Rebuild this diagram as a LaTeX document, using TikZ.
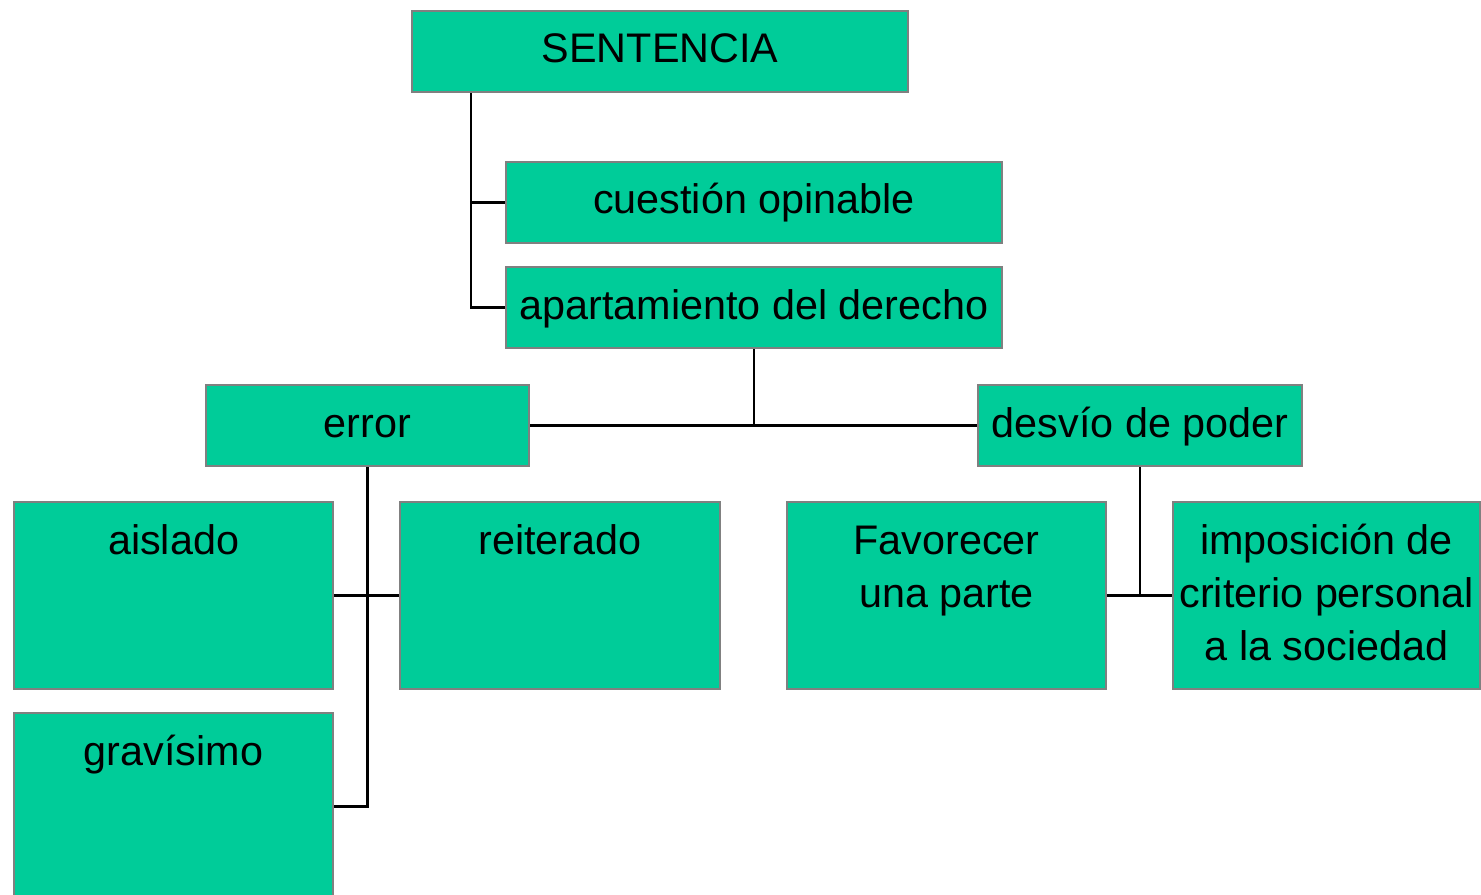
\documentclass[tikz,border=0pt]{standalone}
\usepackage{fontspec}
\setmainfont{Liberation Sans}
\usetikzlibrary{calc}
\definecolor{boxfill}{HTML}{00CC99}
\definecolor{boxline}{HTML}{808080}
\tikzset{
  box/.style={draw=boxline, line width=1.6pt, fill=boxfill, inner sep=0pt, anchor=north west},
  txt/.style={font=\fontsize{31}{39.75}\selectfont, inner sep=0pt, text=black, anchor=base},
  conn/.style={draw=black, line width=2.1pt},
}
\newcommand\mybox[6]{% name, x1, y1, x2, y2, text (first baseline 53px below top)
  \node[box, minimum width={(#4-#2)*0.75pt}, minimum height={(#5-#3)*0.75pt}] (#1) at (#2,#3) {};
  \node[txt] (#1t) at ($(#1.north)+(0,53)$) {\begin{tabular}[t]{@{}c@{}}#6\end{tabular}};}
\begin{document}
\begin{tikzpicture}[x=0.75pt, y=-0.75pt]
\useasboundingbox (0,0) rectangle (1481,895);
\mybox{sent}{411}{10}{907}{91}{SENTENCIA}
\mybox{cue}{505}{161}{1001}{242}{cuestión opinable}
\mybox{apa}{505}{266}{1001}{347}{apartamiento del derecho}
\mybox{err}{205}{384}{528}{465}{error}
\mybox{des}{977}{384}{1301}{465}{desvío de poder}
\mybox{ais}{13}{501}{332}{688}{aislado}
\mybox{rei}{399}{501}{719}{688}{reiterado}
\mybox{gra}{13}{712}{332}{899}{gravísimo}
\mybox{fav}{786}{501}{1105}{688}{Favorecer\\una parte}
\mybox{imp}{1172}{501}{1479}{688}{imposición de\\criterio personal\\a la sociedad}
\coordinate (s1) at ($(sent.south west)+(60,0)$);
\draw[conn] (s1) |- (cue.west);
\draw[conn] (s1) |- (apa.west);
\draw[conn] (apa.south) -- (apa.south |- err.east);
\draw[conn] (err.east) -- (des.west);
\draw[conn] (err.south) |- (gra.east);
\draw[conn] (ais.east) -- (rei.west);
\draw[conn] (des.south) |- (fav.east);
\draw[conn] (fav.east) -- (imp.west);
\end{tikzpicture}
\end{document}
